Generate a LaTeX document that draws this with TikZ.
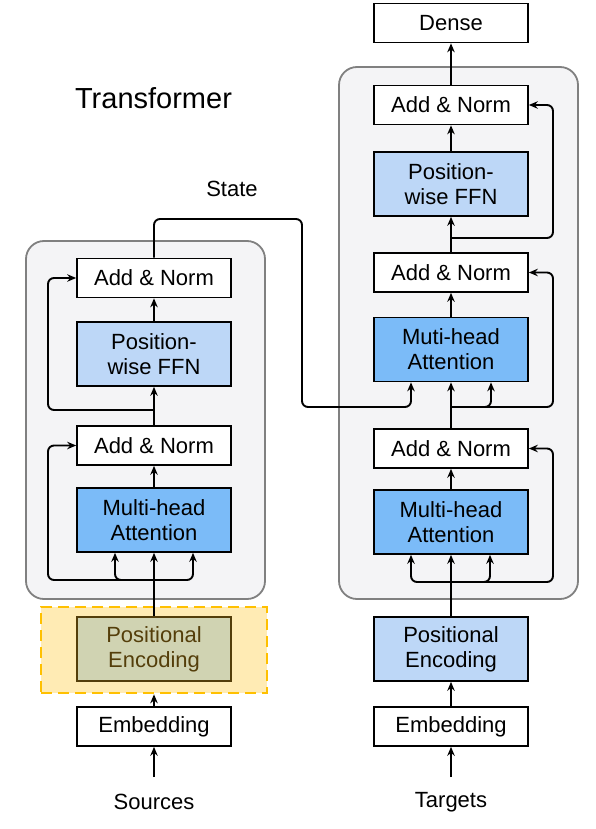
\documentclass[tikz,border=0pt]{standalone}
\usepackage{fontspec}
\setmainfont{Liberation Sans}
\usetikzlibrary{arrows.meta}
\definecolor{contfill}{RGB}{244,244,246}
\definecolor{contdraw}{RGB}{128,128,128}
\definecolor{lblue}{RGB}{189,215,247}
\definecolor{dblue}{RGB}{123,187,248}
\definecolor{hlfill}{RGB}{255,235,180}
\definecolor{hldraw}{RGB}{255,192,0}
\definecolor{pefill}{RGB}{208,211,178}
\definecolor{pedraw}{RGB}{84,62,10}
\begin{document}
\begin{tikzpicture}[x=1pt,y=-1pt,
  txt/.style={font=\fontsize{22}{25}\selectfont},
  blk/.style={draw=black, line width=1.7pt, minimum width=154pt, inner sep=0pt, align=center, txt},
  an/.style={blk, fill=white, minimum height=39pt},
  tall/.style={blk, minimum height=64pt},
  ffn/.style={tall, fill=lblue},
  mha/.style={tall, fill=dblue},
  cont/.style={draw=contdraw, fill=contfill, line width=1.8pt, rounded corners=18pt},
  conn/.style={line width=1.9pt, rounded corners=6pt},
  arr/.style={conn, -{Stealth[length=9pt,width=7.5pt,inset=3pt]}},
]
\useasboundingbox (0,0) rectangle (596,829);

% containers
\draw[cont] (26,241) rectangle (265,599);
\draw[cont] (339,67) rectangle (578,599);
\node[draw=hldraw, fill=hlfill, line width=2.6pt, dash pattern=on 11pt off 6pt,
      minimum width=226pt, minimum height=86pt, inner sep=0pt] (hl) at (154,650) {};

% texts
\node[font=\fontsize{29}{34}\selectfont] (title) at (153.5,98) {Transformer};
\node[txt] (state) at (232,189) {State};
\node[txt] (src) at (154,802) {Sources};
\node[txt] (tgt) at (451,802) {Targets};
\coordinate (srcTop) at (154,777);
\coordinate (tgtTop) at (451,777);

% encoder
\node[an] (eAN2) at (154,278) {Add \& Norm};
\node[ffn] (eFFN) at (154,354) {Position-\\wise FFN};
\node[an] (eAN1) at (154,445.5) {Add \& Norm};
\node[mha] (eMHA) at (154,520) {Multi-head\\Attention};
\node[tall, fill=pefill, draw=pedraw, text=pedraw, line width=2pt] (ePE) at (154,649) {Positional\\Encoding};
\node[an] (eEmb) at (154,726.5) {Embedding};

% decoder
\node[an] (dDense) at (451,23) {Dense};
\node[an] (dAN3) at (451,105) {Add \& Norm};
\node[ffn] (dFFN) at (451,184) {Position-\\wise FFN};
\node[an] (dAN2) at (451,272.5) {Add \& Norm};
\node[mha] (dMHA2) at (451,349.5) {Muti-head\\Attention};
\node[an] (dAN1) at (451,448.5) {Add \& Norm};
\node[mha] (dMHA1) at (451,522) {Multi-head\\Attention};
\node[ffn] (dPE) at (451,649) {Positional\\Encoding};
\node[an] (dEmb) at (451,726.5) {Embedding};

% encoder connectors
\draw[arr] (srcTop) -- (eEmb.south);
\draw[arr] (eEmb.north) -- (hl.south);
\coordinate (eB1) at (154,580);
\draw[arr] (ePE.north) -- (eMHA.south);
\draw[arr] (eB1) -- (48,580) -- (48,445.5) -- (eAN1.west);
\draw[arr] (eB1) -| ([xshift=-39pt]eMHA.south);
\draw[arr] (eB1) -| ([xshift=39pt]eMHA.south);
\draw[arr] (eMHA.north) -- (eAN1.south);
\coordinate (eB2) at (154,410);
\draw[arr] (eAN1.north) -- (eFFN.south);
\draw[arr] (eB2) -- (48,410) -- (48,278) -- (eAN2.west);
\draw[arr] (eFFN.north) -- (eAN2.south);
% state
\draw[arr] (eAN2.north) -- (154,219) -- (302,219) -- (302,407) -| ([xshift=-40pt]dMHA2.south);

% decoder connectors
\draw[arr] (tgtTop) -- (dEmb.south);
\draw[arr] (dEmb.north) -- (dPE.south);
\coordinate (dB1) at (451,582);
\draw[arr] (dPE.north) -- (dMHA1.south);
\draw[arr] (dB1) -- (553,582) -- (553,448.5) -- (dAN1.east);
\draw[arr] (dB1) -| ([xshift=-40pt]dMHA1.south);
\draw[arr] (dB1) -| ([xshift=39pt]dMHA1.south);
\draw[arr] (dMHA1.north) -- (dAN1.south);
\coordinate (dB2) at (451,407);
\draw[arr] (dAN1.north) -- (dMHA2.south);
\draw[arr] (dB2) -- (553,407) -- (553,272.5) -- (dAN2.east);
\draw[arr] (dB2) -| ([xshift=40pt]dMHA2.south);
\draw[arr] (dMHA2.north) -- (dAN2.south);
\coordinate (dB3) at (451,238);
\draw[arr] (dAN2.north) -- (dFFN.south);
\draw[arr] (dB3) -- (553,238) -- (553,105) -- (dAN3.east);
\draw[arr] (dFFN.north) -- (dAN3.south);
\draw[arr] (dAN3.north) -- (dDense.south);
\end{tikzpicture}
\end{document}
